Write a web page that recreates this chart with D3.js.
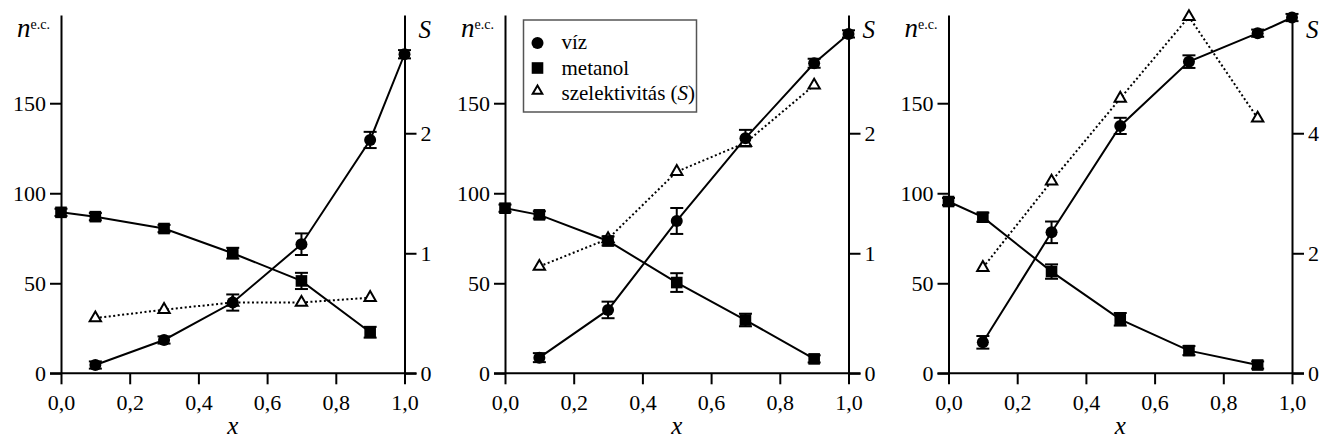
<!DOCTYPE html>
<html><head><meta charset="utf-8">
<script src="https://cdn.jsdelivr.net/npm/d3@7"></script>
</head>
<body style="margin:0;background:#fff">
<svg id="chart" width="1321" height="441"></svg>
<script>
// ---- data ----
const xWater = [0.1, 0.3, 0.5, 0.7, 0.9, 1.0];
const xMethanol = [0.0, 0.1, 0.3, 0.5, 0.7, 0.9];
const xSel = [0.1, 0.3, 0.5, 0.7, 0.9];

const water1 = [4.6, 18.5, 39.3, 71.7, 129.6, 177.2];
const waterErr1 = [2, 2, 4.5, 6, 4.5, 2.3];
const meth1 = [89.4, 87.0, 80.4, 66.7, 51.3, 22.8];
const methErr1 = [2, 2, 2, 3, 4.5, 3];
const sel1 = [0.46, 0.53, 0.59, 0.59, 0.63];

const water2 = [8.7, 35.2, 84.6, 130.6, 172.2, 188.5];
const waterErr2 = [2.5, 4.6, 7.2, 4.6, 2.5, 2];
const meth2 = [91.7, 88.0, 73.5, 50.4, 29.6, 8.0];
const methErr2 = [2, 2, 2.5, 5.2, 3.5, 2];
const sel2 = [0.89, 1.12, 1.68, 1.92, 2.40];

const water3 = [17.2, 78.3, 137.4, 173.1, 188.9, 197.6];
const waterErr3 = [3.5, 6, 4.5, 3.5, 2, 2];
const meth3 = [95.4, 86.7, 56.5, 30.0, 12.6, 4.6];
const methErr3 = [2, 2.5, 4, 3.5, 2.5, 2];
const sel3 = [1.76, 3.2, 4.58, 5.94, 4.25];

const xTicks = [0, 0.2, 0.4, 0.6, 0.8, 1.0];
const nTicks = [0, 50, 100, 150];
const sTicks12 = [0, 1, 2];
const sTicks3 = [0, 2, 4];
const legendLabels = ["víz", "metanol", "szelektivitás ("];

const panels = [
  {water: water1, wErr: waterErr1, meth: meth1, mErr: methErr1, sel: sel1, sMax: 2.985, sTicks: sTicks12, left: 61},
  {water: water2, wErr: waterErr2, meth: meth2, mErr: methErr2, sel: sel2, sMax: 2.985, sTicks: sTicks12, left: 505},
  {water: water3, wErr: waterErr3, meth: meth3, mErr: methErr3, sel: sel3, sMax: 5.97, sTicks: sTicks3, left: 948.5}
];

const FONT = '"Liberation Serif"';
const svg = d3.select("#chart");
const W = 343.5, plotTop = 15, plotBottom = 373.3;
const fmt = d => d.toFixed(1).replace(".", ",");

panels.forEach((p, i) => {
  const x = d3.scaleLinear().domain([0, 1]).range([p.left, p.left + W]);
  const y = d3.scaleLinear().domain([0, 199]).range([plotBottom, plotTop]);
  const yS = d3.scaleLinear().domain([0, p.sMax]).range([plotBottom, plotTop]);
  const g = svg.append("g");

  // axes
  const ax = g.append("g").attr("transform", `translate(0,${plotBottom})`)
    .call(d3.axisBottom(x).tickValues(xTicks).tickFormat(fmt).tickSize(11).tickPadding(10).tickSizeOuter(0));
  const ayl = g.append("g").attr("transform", `translate(${p.left},0)`)
    .call(d3.axisLeft(y).tickValues(nTicks).tickFormat(d3.format("d")).tickSize(11).tickPadding(4).tickSizeOuter(0));
  const ayr = g.append("g").attr("transform", `translate(${p.left + W},0)`)
    .call(d3.axisRight(yS).tickValues(p.sTicks).tickFormat(d3.format("d")).tickSize(12).tickPadding(4).tickSizeOuter(0));
  [ax, ayl, ayr].forEach(a => {
    a.attr("font-family", FONT).attr("font-size", 22);
    a.selectAll("path,line").attr("stroke", "#000").attr("stroke-width", 2);
    a.selectAll("text").attr("font-size", 22).attr("font-family", FONT).attr("fill", "#000");
  });
  // x axis line extended across both zero ticks
  ax.select("path.domain").attr("d", `M${p.left - 11},0H${p.left + W + 12}`);

  // lines
  const lineW = d3.line().x((d, k) => x(xWater[k])).y(d => y(d));
  const lineM = d3.line().x((d, k) => x(xMethanol[k])).y(d => y(d));
  const lineS = d3.line().x((d, k) => x(xSel[k])).y(d => yS(d));

  g.append("path").attr("d", lineS(p.sel)).attr("fill", "none").attr("stroke", "#000")
    .attr("stroke-width", 2).attr("stroke-dasharray", "2,2.5");
  g.append("path").attr("d", lineW(p.water)).attr("fill", "none").attr("stroke", "#000").attr("stroke-width", 2);
  g.append("path").attr("d", lineM(p.meth)).attr("fill", "none").attr("stroke", "#000").attr("stroke-width", 2);

  // error bars
  const capW = 6.5;
  function errBars(xs, vals, errs) {
    const eg = g.append("g").attr("stroke", "#000").attr("stroke-width", 2);
    vals.forEach((v, k) => {
      const cx = x(xs[k]), y1 = y(v + errs[k]), y2 = y(v - errs[k]);
      eg.append("line").attr("x1", cx).attr("x2", cx).attr("y1", y1).attr("y2", y2);
      eg.append("line").attr("x1", cx - capW).attr("x2", cx + capW).attr("y1", y1).attr("y2", y1);
      eg.append("line").attr("x1", cx - capW).attr("x2", cx + capW).attr("y1", y2).attr("y2", y2);
    });
  }
  errBars(xWater, p.water, p.wErr);
  errBars(xMethanol, p.meth, p.mErr);

  // markers
  const tri = d3.symbol().type(d3.symbolTriangle).size(56);
  g.selectAll(".tri").data(p.sel).enter().append("path")
    .attr("d", tri).attr("transform", (d, k) => `translate(${x(xSel[k])},${yS(d)})`)
    .attr("fill", "#fff").attr("stroke", "#000").attr("stroke-width", 2);
  g.selectAll(".circ").data(p.water).enter().append("circle")
    .attr("cx", (d, k) => x(xWater[k])).attr("cy", d => y(d)).attr("r", 6).attr("fill", "#000");
  g.selectAll(".sq").data(p.meth).enter().append("rect")
    .attr("x", (d, k) => x(xMethanol[k]) - 5.8).attr("y", d => y(d) - 5.8)
    .attr("width", 11.6).attr("height", 11.6).attr("fill", "#000");

  // axis titles
  const nl = g.append("text").attr("x", p.left - 11).attr("y", 37).attr("text-anchor", "end")
    .attr("font-family", FONT);
  nl.append("tspan").attr("font-style", "italic").attr("font-size", 27).text("n");
  nl.append("tspan").attr("font-size", 14).attr("dy", -8).text("e.c.");
  g.append("text").attr("x", p.left + W + 14).attr("y", 38).attr("font-style", "italic")
    .attr("font-family", FONT).attr("font-size", 25).text("S");
  g.append("text").attr("x", p.left + W / 2).attr("y", 434).attr("text-anchor", "middle")
    .attr("font-family", FONT).attr("font-style", "italic").attr("font-size", 25).text("x");
});

// legend (in middle panel)
const lg = svg.append("g");
lg.append("rect").attr("x", 523.5).attr("y", 20).attr("width", 173).attr("height", 92)
  .attr("fill", "#fff").attr("stroke", "#555").attr("stroke-width", 1.5);
const lx = 537.5, tx = 561.5;
lg.append("circle").attr("cx", lx).attr("cy", 43).attr("r", 6).attr("fill", "#000");
lg.append("rect").attr("x", lx - 5.8).attr("y", 68 - 5.8).attr("width", 11.6).attr("height", 11.6).attr("fill", "#000");
lg.append("path").attr("d", d3.symbol().type(d3.symbolTriangle).size(40)())
  .attr("transform", `translate(${lx},91)`).attr("fill", "#fff").attr("stroke", "#000").attr("stroke-width", 2);
[48.5, 74.5, 100].forEach((yy, k) => {
  const t = lg.append("text").attr("x", tx).attr("y", yy).attr("font-family", FONT)
    .attr("font-size", 21).text(legendLabels[k]);
  if (k === 2) {
    t.append("tspan").attr("font-style", "italic").text("S");
    t.append("tspan").text(")");
  }
});
</script>
</body></html>
